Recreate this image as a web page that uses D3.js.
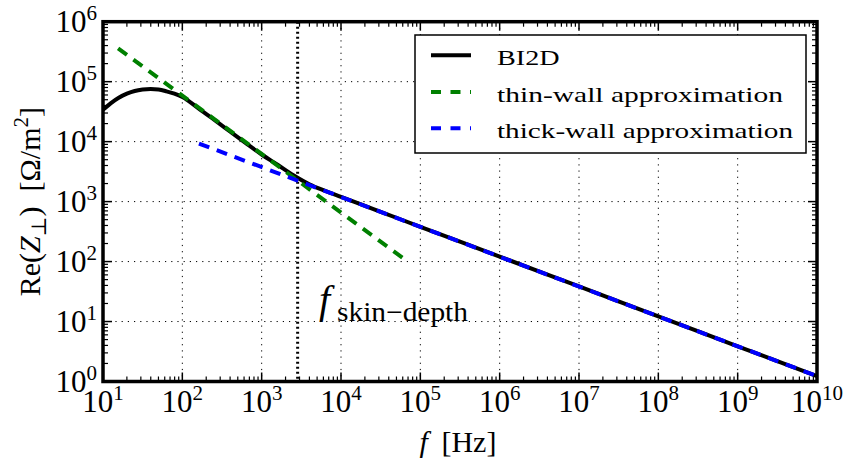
<!DOCTYPE html>
<html>
<head>
<meta charset="utf-8">
<script src="https://cdn.jsdelivr.net/npm/d3@7"></script>
<style>
  body { margin: 0; background: #fff; }
  svg { display: block; }
  text { font-family: "Liberation Serif", "DejaVu Serif", serif; fill: #000; }
</style>
</head>
<body>
<svg id="chart" width="847" height="458"></svg>
<script>
// BI2D simulation: real part of transverse impedance vs frequency
const bi2dFreq = [10, 12.6, 15.8, 20, 25.1, 31.6, 39.8, 50.1, 63.1, 79.4, 100, 158, 251, 398, 631,
                  1000, 1585, 2512, 3981, 6310, 1e4, 3.16e4, 1e5, 1e6, 1e7, 1e8, 1e9, 1e10];
const bi2dRe   = [3.4e4, 4.4e4, 5.4e4, 6.3e4, 7.0e4, 7.4e4, 7.55e4, 7.4e4, 6.9e4, 6.3e4, 5.56e4, 3.63e4,
                  2.32e4, 1.48e4, 9440, 6100, 4120, 2750, 1950, 1510, 1200, 676, 380, 121, 38.4, 12.2, 3.87, 1.23];

// Thin-wall approximation (~1/f)
const thinFreq = [15.5, 6e4];
const thinRe   = [3.6e5, 115];

// Thick-wall approximation (~1/sqrt(f))
const thickFreq = [162, 1e10];
const thickRe   = [9300, 1.23];

// Skin-depth frequency marker
const skinDepthFreq = 2840;

// Axis decades
const xExponents = [1, 2, 3, 4, 5, 6, 7, 8, 9, 10];
const yExponents = [0, 1, 2, 3, 4, 5, 6];

const legendLabels = ["BI2D", "thin-wall approximation", "thick-wall approximation"];
const legendColors = ["#000000", "#008000", "#0000ff"];

const svg = d3.select("#chart");
const m = { left: 103, right: 817, top: 21.7, bottom: 381.5 };

const x = d3.scaleLog().domain([1e1, 1e10]).range([m.left, m.right]);
const y = d3.scaleLog().domain([1e0, 1e6]).range([m.bottom, m.top]);

// minor tick values (2..9 x 10^k)
const xMinor = [], yMinor = [];
for (let e = 1; e < 10; e++) for (let k = 2; k <= 9; k++) xMinor.push(k * Math.pow(10, e));
for (let e = 0; e < 6; e++) for (let k = 2; k <= 9; k++) yMinor.push(k * Math.pow(10, e));
const xMajor = xExponents.map(e => Math.pow(10, e));
const yMajor = yExponents.map(e => Math.pow(10, e));

// grid
const grid = svg.append("g").attr("stroke", "#000").attr("stroke-width", 1)
  .attr("stroke-dasharray", "1.2,5").attr("fill", "none");
xMajor.slice(1, -1).forEach(v => grid.append("line")
  .attr("x1", x(v)).attr("x2", x(v)).attr("y1", m.top).attr("y2", m.bottom));
yMajor.slice(1, -1).forEach(v => grid.append("line")
  .attr("x1", m.left).attr("x2", m.right).attr("y1", y(v)).attr("y2", y(v)));

// ticks (inward, on all four sides)
const ticks = svg.append("g").attr("stroke", "#000");
function xTick(v, len, w) {
  ticks.append("line").attr("x1", x(v)).attr("x2", x(v)).attr("y1", m.bottom).attr("y2", m.bottom - len).attr("stroke-width", w);
  ticks.append("line").attr("x1", x(v)).attr("x2", x(v)).attr("y1", m.top).attr("y2", m.top + len).attr("stroke-width", w);
}
function yTick(v, len, w) {
  ticks.append("line").attr("y1", y(v)).attr("y2", y(v)).attr("x1", m.left).attr("x2", m.left + len).attr("stroke-width", w);
  ticks.append("line").attr("y1", y(v)).attr("y2", y(v)).attr("x1", m.right).attr("x2", m.right - len).attr("stroke-width", w);
}
xMajor.forEach(v => xTick(v, 9, 1.5));
xMinor.forEach(v => xTick(v, 5, 1.2));
yMajor.forEach(v => yTick(v, 9, 1.5));
yMinor.forEach(v => yTick(v, 5, 1.2));

// data lines
const clip = svg.append("clipPath").attr("id", "plotclip").append("rect")
  .attr("x", m.left).attr("y", m.top).attr("width", m.right - m.left).attr("height", m.bottom - m.top);
const plot = svg.append("g").attr("clip-path", "url(#plotclip)");

const line = d3.line().x(d => x(d[0])).y(d => y(d[1]));
const smooth = d3.line().x(d => x(d[0])).y(d => y(d[1])).curve(d3.curveMonotoneX);

// skin-depth marker
plot.append("line")
  .attr("x1", x(skinDepthFreq)).attr("x2", x(skinDepthFreq))
  .attr("y1", m.top).attr("y2", m.bottom)
  .attr("stroke", "#000").attr("stroke-width", 3).attr("stroke-dasharray", "2,3");

plot.append("path").datum(d3.zip(bi2dFreq, bi2dRe))
  .attr("d", smooth).attr("fill", "none").attr("stroke", legendColors[0]).attr("stroke-width", 4);
plot.append("path").datum(d3.zip(thinFreq, thinRe))
  .attr("d", line).attr("fill", "none").attr("stroke", legendColors[1]).attr("stroke-width", 4)
  .attr("stroke-dasharray", "11,8");
plot.append("path").datum(d3.zip(thickFreq, thickRe))
  .attr("d", line).attr("fill", "none").attr("stroke", legendColors[2]).attr("stroke-width", 4)
  .attr("stroke-dasharray", "11,8");

// axes frame
svg.append("rect").attr("x", m.left).attr("y", m.top)
  .attr("width", m.right - m.left).attr("height", m.bottom - m.top)
  .attr("fill", "none").attr("stroke", "#000").attr("stroke-width", 3.5);

// tick labels
const xl = svg.append("g");
xExponents.forEach(e => {
  const t = xl.append("text").attr("x", x(Math.pow(10, e))).attr("y", 411.7)
    .attr("text-anchor", "middle").style("font-size", "31px");
  t.append("tspan").text("10");
  t.append("tspan").attr("dy", -12).style("font-size", "21px").text(e);
});
const yl = svg.append("g");
yExponents.forEach(e => {
  const t = yl.append("text").attr("x", 97).attr("y", y(Math.pow(10, e)) + 10)
    .attr("text-anchor", "end").style("font-size", "31px");
  t.append("tspan").text("10");
  t.append("tspan").attr("dy", -12).style("font-size", "21px").text(e);
});

// axis titles
const xt = svg.append("text").attr("x", (m.left + m.right) / 2 - 2).attr("y", 452)
  .attr("text-anchor", "middle").style("font-size", "30px");
xt.append("tspan").style("font-style", "italic").text("f");
xt.append("tspan").text("\u2009 [Hz]");

const yt = svg.append("text")
  .attr("transform", `translate(40,${(m.top + m.bottom) / 2}) rotate(-90)`)
  .attr("text-anchor", "middle").style("font-size", "30px");
yt.append("tspan").text("Re(");
yt.append("tspan").style("font-style", "italic").text("Z");
yt.append("tspan").attr("dy", 6).style("font-size", "21px").text("\u22A5");
yt.append("tspan").attr("dy", -6).text(")\u2002[\u03A9/m");
yt.append("tspan").attr("dy", -12).style("font-size", "21px").text("2");
yt.append("tspan").attr("dy", 12).text("]");

// skin-depth annotation
const ann = svg.append("text").attr("x", 319).attr("y", 313);
ann.append("tspan").style("font-style", "italic").style("font-size", "40px").text("f");
ann.append("tspan").attr("x", 337).attr("y", 321).style("font-size", "27px")
  .attr("textLength", 131).attr("lengthAdjust", "spacingAndGlyphs").text("skin\u2212depth");

// legend
const lg = svg.append("g");
lg.append("rect").attr("x", 415).attr("y", 35).attr("width", 391).attr("height", 118)
  .attr("fill", "#fff").attr("stroke", "#000").attr("stroke-width", 1.5);
const rowY = [55.3, 92, 128.3];
const labelWidths = [62.6, 286, 296];
legendLabels.forEach((lab, i) => {
  const ln = lg.append("line").attr("x1", 431).attr("x2", 471).attr("y1", rowY[i]).attr("y2", rowY[i])
    .attr("stroke", legendColors[i]).attr("stroke-width", 4);
  if (i > 0) ln.attr("stroke-dasharray", "10,9.5");
  lg.append("text").attr("x", 497).attr("y", rowY[i] + 9.7).style("font-size", "22px")
    .attr("textLength", labelWidths[i]).attr("lengthAdjust", "spacingAndGlyphs").text(lab);
});
</script>
</body>
</html>
